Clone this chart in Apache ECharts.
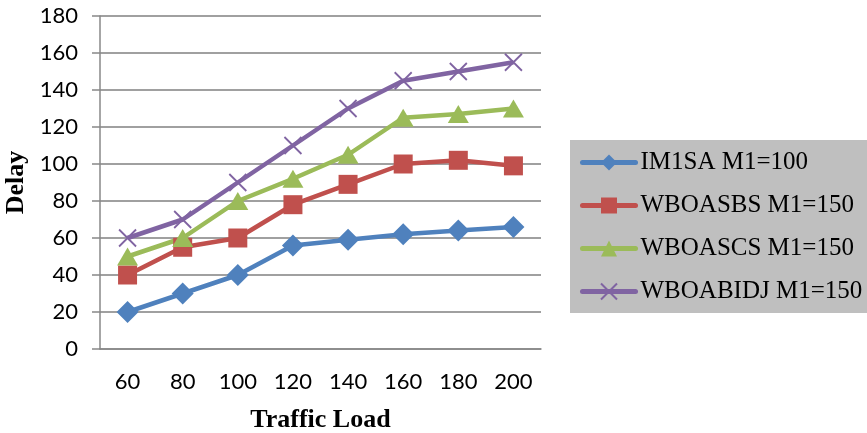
<!DOCTYPE html>
<html><head><meta charset="utf-8">
<script src="https://cdn.jsdelivr.net/npm/echarts@6/dist/echarts.min.js"></script>
<style>html,body{margin:0;padding:0;background:#fff}#c{width:867px;height:433px}</style>
</head><body><div id="c"></div>
<script>
const categories = ['60','80','100','120','140','160','180','200'];
const im1sa = [20, 30, 40, 56, 59, 62, 64, 66];
const wboasbs = [40, 55, 60, 78, 89, 100, 102, 99];
const wboascs = [50, 60, 80, 92, 105, 125, 127, 130];
const wboabidj = [60, 70, 90, 110, 130, 145, 150, 155];
const names = ['IM1SA M1=100','WBOASBS M1=150','WBOASCS M1=150','WBOABIDJ M1=150'];

const chart = echarts.init(document.getElementById('c'));
const sans = 'Lato';
const serif = 'Liberation Serif';
const crossPath = 'path://M0,0L10,10M10,0L0,10';
chart.setOption({
  animation:false,
  color:['#4F81BD','#C0504D','#9BBB59','#8064A2'],
  grid:{left:100,right:326,top:16,bottom:84,containLabel:false,outerBoundsMode:'none'},
  legend:{
    orient:'vertical', left:570, top:140, width:297,
    backgroundColor:'#bfbfbf', padding:[10,20,9,10], itemGap:18,
    itemWidth:53, itemHeight:20,
    textStyle:{fontFamily:serif,fontSize:25,color:'#000',lineHeight:25},
    lineStyle:{width:5,cap:'round'},
    data:names
  },
  xAxis:{
    type:'category', data:categories, boundaryGap:true,
    name:'Traffic Load', nameLocation:'middle', nameGap:58,
    nameTextStyle:{fontFamily:serif,fontWeight:'bold',fontSize:26,color:'#000'},
    axisLine:{lineStyle:{color:'#888',width:1.5}},
    axisTick:{show:false},
    axisLabel:{fontFamily:sans,fontSize:22,color:'#000',margin:22}
  },
  yAxis:{
    type:'value', min:0, max:180, interval:20,
    name:'Delay', nameLocation:'middle', nameGap:67, nameRotate:90,
    nameTextStyle:{fontFamily:serif,fontWeight:'bold',fontSize:26,color:'#000'},
    axisLine:{show:true,lineStyle:{color:'#888',width:1.5}},
    axisTick:{show:true,inside:false,length:8,lineStyle:{color:'#888',width:1.5}},
    splitLine:{lineStyle:{color:'#a0a0a0',width:1.8}},
    axisLabel:{fontFamily:sans,fontSize:22,color:'#000',margin:22}
  },
  series:[
    {name:names[0],type:'line',data:im1sa,symbol:'diamond',symbolSize:[22,22],lineStyle:{width:4.5}},
    {name:names[1],type:'line',data:wboasbs,symbol:'rect',symbolSize:19,lineStyle:{width:4.5}},
    {name:names[2],type:'line',data:wboascs,symbol:'triangle',symbolSize:[21,18],lineStyle:{width:4.5}},
    {name:names[3],type:'line',data:wboabidj,symbol:crossPath,symbolSize:17,lineStyle:{width:4.5},
      itemStyle:{borderColor:'#8064A2',borderWidth:1.8}}
  ]
});
</script></body></html>
